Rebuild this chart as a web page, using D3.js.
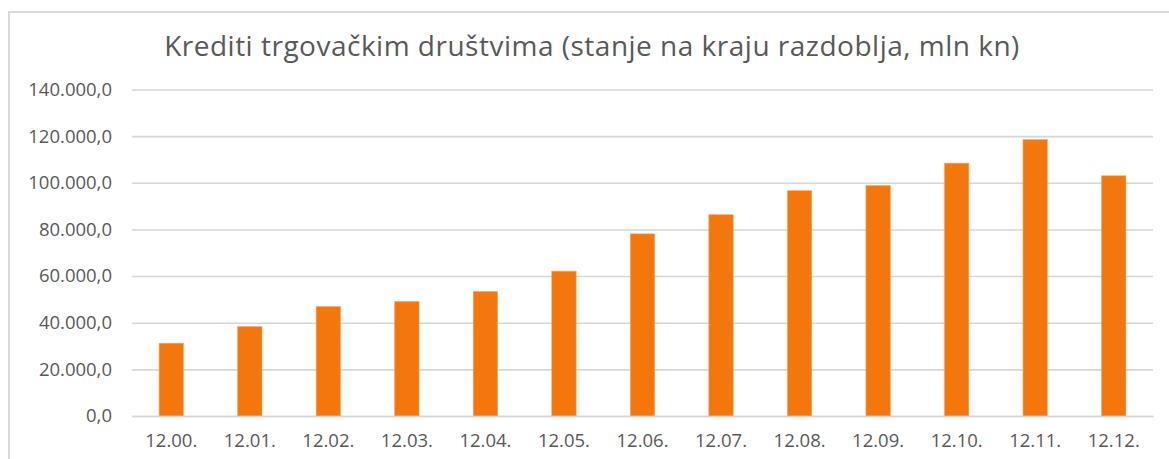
<!DOCTYPE html>
<html>
<head>
<meta charset="utf-8">
<script src="https://cdn.jsdelivr.net/npm/d3@7"></script>
<style>
  html, body { margin: 0; padding: 0; background: #fff; }
  svg { display: block; font-family: "Open Sans", sans-serif; }
</style>
</head>
<body>
<div id="chart"></div>
<script>
const title = "Krediti trgovačkim društvima (stanje na kraju razdoblja, mln kn)"
const categories = ["12.00.", "12.01.", "12.02.", "12.03.", "12.04.", "12.05.", "12.06.",
  "12.07.", "12.08.", "12.09.", "12.10.", "12.11.", "12.12."]
const values = [31200, 38300, 46900, 49100, 53400, 62100, 78100,
  86300, 96600, 98800, 108400, 118500, 103000]
const yTicks = [0, 20000, 40000, 60000, 80000, 100000, 120000, 140000]

const width = 1169
const height = 459
const marginTop = 89.5
const marginRight = 16
const marginBottom = 43
const marginLeft = 132

const hr = d3.formatLocale({ decimal: ",", thousands: ".", grouping: [3], currency: ["", ""] })
const fmt = hr.format(",.1f")

const xScale = d3
  .scaleBand()
  .domain(categories)
  .range([marginLeft, width - marginRight])
  .paddingInner(0.69)
  .paddingOuter(0.345)

const yScale = d3
  .scaleLinear()
  .domain([0, 140000])
  .range([height - marginBottom, marginTop])

const svg = d3
  .create("svg")
  .attr("viewBox", [0, 0, width, height])
  .attr("width", width)
  .attr("height", height)

// outer chart frame (only top and left edge visible)
svg.append("path")
  .attr("d", `M9,${height} V12 H${width}`)
  .attr("fill", "none")
  .attr("stroke", "#d9d9d9")
  .attr("stroke-width", 2)

svg.append("text")
  .attr("x", 592)
  .attr("y", 56)
  .attr("text-anchor", "middle")
  .attr("fill", "#595959")
  .attr("font-size", 28)
  .attr("letter-spacing", 0.5)
  .text(title)

// y axis + gridlines
const yAxis = d3.axisLeft(yScale)
  .tickValues(yTicks)
  .tickFormat(fmt)
  .tickSizeInner(-(width - marginLeft - marginRight))
  .tickSizeOuter(0)
  .tickPadding(20)

svg.append("g")
  .attr("transform", `translate(${marginLeft},0)`)
  .call(yAxis)
  .call(g => g.select(".domain").remove())
  .call(g => g.selectAll(".tick line").attr("stroke", "#d6d6d6").attr("stroke-width", 1.6))
  .call(g => g.selectAll(".tick text")
    .attr("fill", "#595959")
    .attr("font-size", 18.5)
    .attr("font-family", "'Open Sans', sans-serif"))

// bars
svg.append("g")
  .selectAll("rect")
  .data(values)
  .join("rect")
  .attr("x", (d, i) => xScale(categories[i]))
  .attr("y", d => yScale(d))
  .attr("width", xScale.bandwidth())
  .attr("height", d => yScale(0) - yScale(d))
  .attr("fill", "#f4770e")
  .attr("stroke", "#f8a25a")
  .attr("stroke-width", 0.6)

// x axis
const xAxis = d3.axisBottom(xScale).tickSize(0).tickPadding(18)
svg.append("g")
  .attr("transform", `translate(0,${height - marginBottom})`)
  .call(xAxis)
  .call(g => g.select(".domain").attr("stroke", "#d6d6d6").attr("stroke-width", 1.6))
  .call(g => g.selectAll(".tick text")
    .attr("fill", "#595959")
    .attr("font-size", 18.5)
    .attr("font-family", "'Open Sans', sans-serif"))

document.querySelector("#chart").append(svg.node())
</script>
</body>
</html>
